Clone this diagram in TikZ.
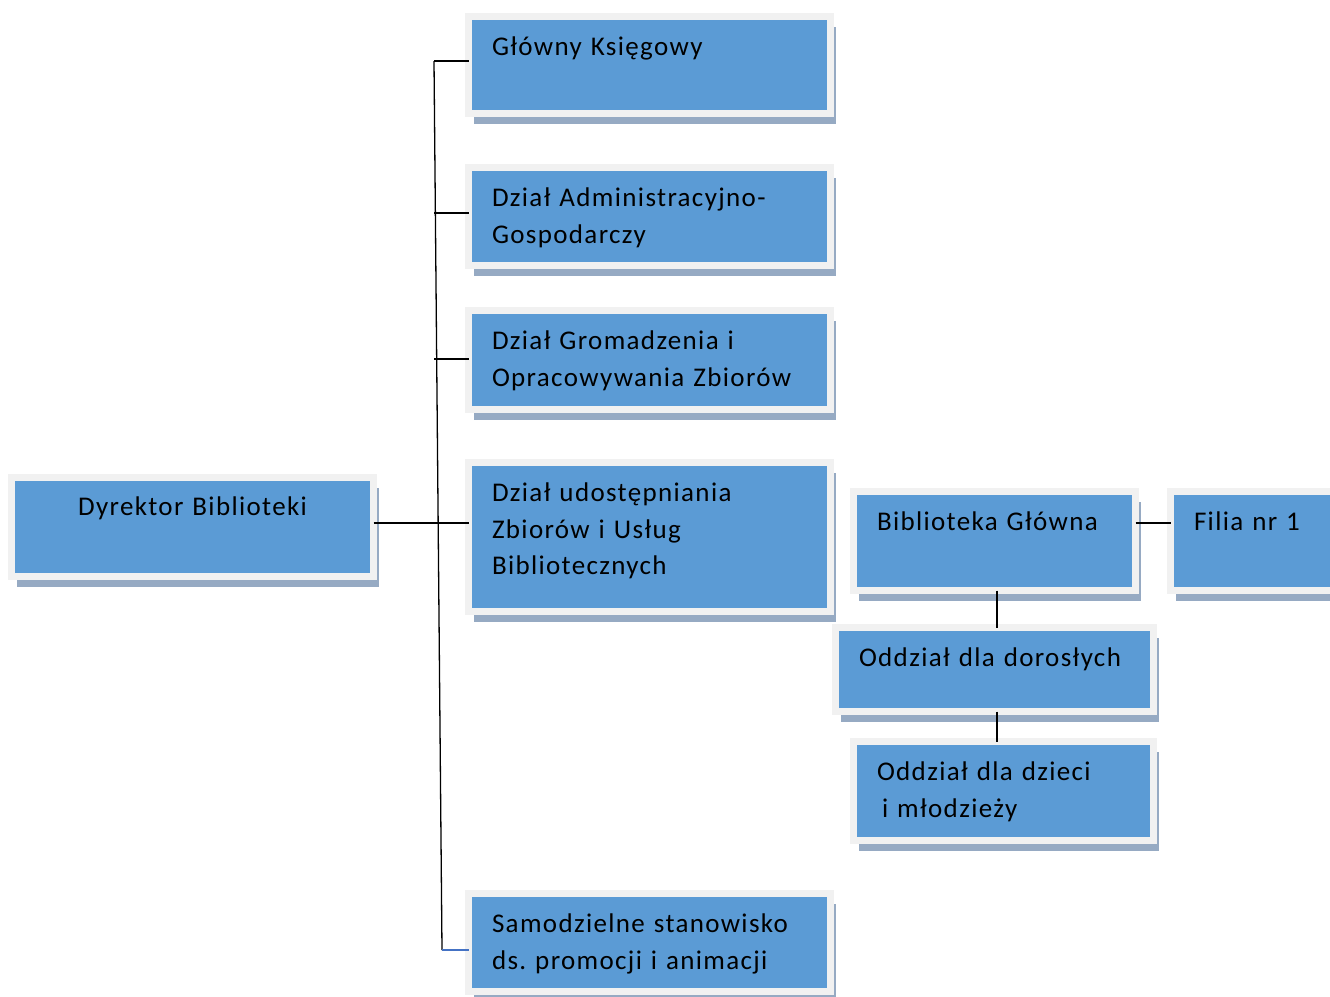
\documentclass[tikz,border=0pt]{standalone}
\usepackage{fontspec}
\setmainfont{Carlito}[LetterSpace=5,WordSpace=0.6]
\usetikzlibrary{shadows}
\definecolor{unitblue}{RGB}{91,155,213}
\definecolor{unitrim}{RGB}{241,241,241}
\definecolor{unitshade}{RGB}{150,170,195}
\definecolor{linkblue}{RGB}{68,114,196}
\tikzset{unit/.style={anchor=north west, fill=unitblue, draw=unitrim,
    line width=7pt, outer sep=0pt, inner xsep=23.5pt, inner ysep=0pt,
    align=left, text height=39pt, font=\fontsize{27}{36.5}\selectfont,
    drop shadow={shadow xshift=5pt, shadow yshift=-10pt, fill=unitshade, opacity=1}},
  link/.style={line width=1.3pt}}

\begin{document}
\begin{tikzpicture}[x=1pt,y=-1pt]
  \clip (0,0) rectangle (1330,996);
  \node[unit, text width=315pt, text depth=58pt] (ksieg) at (468.5,16.5) {Główny Księgowy};
  \node[unit, text width=315pt, text depth=59pt] (admin) at (468.5,167.5) {Dział Administracyjno-\\Gospodarczy};
  \node[unit, text width=315pt, text depth=60pt] (grom) at (468.5,310.5) {Dział Gromadzenia i\\Opracowywania Zbiorów};
  \node[unit, text width=315pt, text depth=110pt] (udost) at (468.5,462.5) {Dział udostępniania\\Zbiorów i Usług\\Bibliotecznych};
  \node[unit, text width=315pt, text depth=59pt] (samodz) at (468.5,893.5) {Samodzielne stanowisko\\ds.\ promocji i animacji};
  \node[unit, text width=315pt, text height=37.5pt, text depth=61.5pt, align=center] (dyr) at (11.5,477.5) {Dyrektor Biblioteki};
  \node[unit, text width=235pt, text depth=60pt] (bib) at (853.5,491.5) {Biblioteka Główna};
  \node[unit, text width=131pt, text depth=60pt] (filia) at (1170.5,491.5) {Filia nr 1};
  \node[unit, text width=271pt, text depth=45pt] (dor) at (835.5,627.5) {Oddział dla dorosłych};
  \node[unit, text width=253pt, text depth=60pt] (dzieci) at (853.5,741.5) {Oddział dla dzieci\\\hspace{5pt}i młodzieży};

  \coordinate (trunktop) at (434,61);
  \coordinate (trunkbot) at (442,950);
  \draw[link] (trunktop) -- (trunkbot);
  \draw[link] ([yshift=4pt]ksieg.west) -- (trunktop);
  \draw[link] ([yshift=3.5pt]admin.west) -- ([yshift=3.5pt]admin.west -| trunktop);
  \draw[link] ([yshift=1pt]grom.west) -- ([yshift=1pt]grom.west -| trunktop);
  \draw[link] ([yshift=4pt]dyr.east) -- ([yshift=14pt]udost.west);
  \draw[link, linkblue] ([yshift=-7.5pt]samodz.west) -- (trunkbot);
  \draw[link] ([yshift=18pt]bib.east) -- ([yshift=18pt]filia.west);
  \draw[link] ([xshift=2.5pt]bib.south) -- ([xshift=2.5pt]dor.north);
  \draw[link] ([xshift=2.5pt]dor.south) -- ([xshift=2.5pt]dor.south |- dzieci.north);
\end{tikzpicture}
\end{document}
